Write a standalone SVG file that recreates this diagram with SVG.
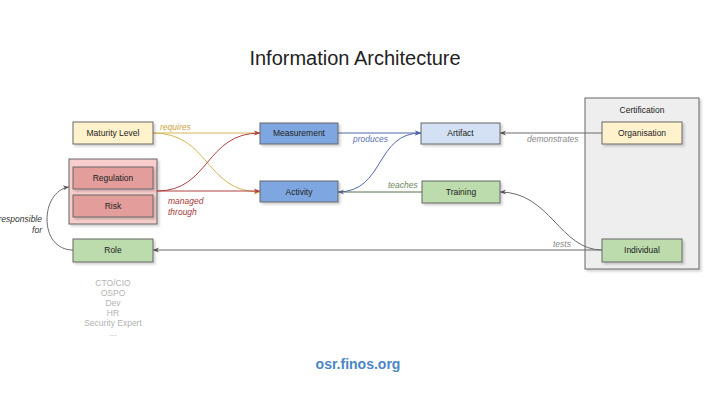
<svg xmlns="http://www.w3.org/2000/svg" width="720" height="405" viewBox="0 0 720 405">
<defs>
<filter id="sh" x="-10%" y="-10%" width="130%" height="140%">
<feDropShadow dx="2" dy="2" stdDeviation="1" flood-color="#000" flood-opacity="0.18"/>
</filter>
<marker id="aO" viewBox="0 0 10 10" refX="10" refY="5" markerWidth="6" markerHeight="6" markerUnits="userSpaceOnUse" orient="auto"><path d="M0,1 L10,5 L0,9 L3,5 Z" fill="#d6a83a"/></marker>
<marker id="aR" viewBox="0 0 10 10" refX="10" refY="5" markerWidth="6" markerHeight="6" markerUnits="userSpaceOnUse" orient="auto"><path d="M0,1 L10,5 L0,9 L3,5 Z" fill="#b04040"/></marker>
<marker id="aB" viewBox="0 0 10 10" refX="10" refY="5" markerWidth="6" markerHeight="6" markerUnits="userSpaceOnUse" orient="auto"><path d="M0,1 L10,5 L0,9 L3,5 Z" fill="#4f68a8"/></marker>
<marker id="aG" viewBox="0 0 10 10" refX="10" refY="5" markerWidth="6" markerHeight="6" markerUnits="userSpaceOnUse" orient="auto"><path d="M0,1 L10,5 L0,9 L3,5 Z" fill="#555"/></marker>
</defs>
<style>
text{font-family:"Liberation Sans",Arial,sans-serif}
.n{font-size:8.5px;fill:#222;text-anchor:middle}
.lbl{font-size:8.5px;font-style:italic}
.box{stroke:#666;stroke-width:1;filter:url(#sh)}
.yel{fill:#fff2cc}
.red{fill:#e39e9c}
.blu{fill:#7ea6e0}
.lbl2{fill:#d4e1f5}
.grn{fill:#bcdcad}
.e{fill:none;stroke-width:1}
.eo{stroke:#d6b656;marker-end:url(#aO)}
.er{stroke:#b04040;marker-end:url(#aR)}
.eb{stroke:#4f68a8;marker-end:url(#aB)}
.eg{stroke:#6b6b6b;marker-end:url(#aG)}
.egr{stroke:#58704c;marker-end:url(#aB)}
</style>
<rect width="720" height="405" fill="#fff"/>
<text x="355" y="65" font-size="20" text-anchor="middle" fill="#222">Information Architecture</text>

<g id="certification">
<rect x="585" y="98" width="114" height="171" fill="#eeeeee" stroke="#888" class="box"/>
<text x="642" y="113" class="n">Certification</text>
</g>
<g id="risk-group">
<rect x="69" y="159" width="88" height="65" fill="#f8cecc" stroke="#9e8a8a" class="box"/>
</g>

<g id="connectors">
<path class="e eo" d="M153,133 L260,133"/>
<path class="e eo" d="M153,133 C210,133 205,192 260,192"/>
<path class="e er" d="M157,191 L260,191"/>
<path class="e er" d="M157,191 C210,191 205,133 260,133"/>
<path class="e eb" d="M338,133 L421,133"/>
<path class="e eb" d="M338,192 C385,192 375,133 421,133"/>
<path class="e egr" d="M422,192 L338,192"/>
<path class="e eg" d="M602,133 L500,133"/>
<path class="e eg" d="M602,250 L153,250"/>
<path class="e eg" d="M602,250 C560,250 550,192 500,192"/>
<path class="e eg" d="M73,250 C38,250 40,191 69,187"/>
<text x="160" y="130" class="lbl" fill="#c9a23c">requires</text>
<text x="168" y="204" class="lbl" fill="#a8393a">managed</text>
<text x="168" y="215" class="lbl" fill="#a8393a">through</text>
<text x="353" y="142" class="lbl" fill="#5a72b0">produces</text>
<text x="388" y="188" class="lbl" fill="#6b8a5a">teaches</text>
<text x="527" y="142" class="lbl" fill="#888">demonstrates</text>
<text x="553" y="247" class="lbl" fill="#888">tests</text>
<text x="42" y="222" class="lbl" fill="#333" text-anchor="end">responsible</text>
<text x="42" y="233" class="lbl" fill="#333" text-anchor="end">for</text>
</g>

<g id="maturity-level"><rect x="73" y="122" width="80" height="22" class="box yel"/><text x="113" y="136" class="n">Maturity Level</text></g>
<g id="regulation"><rect x="73" y="167" width="80" height="22" class="box red"/><text x="113" y="181" class="n">Regulation</text></g>
<g id="risk"><rect x="73" y="195" width="80" height="22" class="box red"/><text x="113" y="209" class="n">Risk</text></g>
<g id="role"><rect x="73" y="239" width="80" height="23" class="box grn"/><text x="113" y="253" class="n">Role</text></g>
<g id="measurement"><rect x="260" y="123" width="78" height="21" class="box blu"/><text x="299" y="136" class="n">Measurement</text></g>
<g id="activity"><rect x="260" y="181" width="78" height="21" class="box blu"/><text x="299" y="194.5" class="n">Activity</text></g>
<g id="artifact"><rect x="421" y="123" width="79" height="21" class="box lbl2"/><text x="460.5" y="136" class="n">Artifact</text></g>
<g id="training"><rect x="422" y="181" width="78" height="22" class="box grn"/><text x="461" y="195" class="n">Training</text></g>
<g id="organisation"><rect x="602" y="122" width="80" height="22" class="box yel"/><text x="642" y="136" class="n">Organisation</text></g>
<g id="individual"><rect x="602" y="239" width="80" height="23" class="box grn"/><text x="642" y="253" class="n">Individual</text></g>

<g id="roles-list" font-size="8.5" fill="#b3b3b3" text-anchor="middle">
<text x="113" y="286">CTO/CIO</text>
<text x="113" y="296">OSPO</text>
<text x="113" y="306">Dev</text>
<text x="113" y="316">HR</text>
<text x="113" y="326">Security Expert</text>
<text x="113" y="336">...</text>
</g>
<text x="358" y="369" font-size="14" font-weight="bold" fill="#4a86c8" text-anchor="middle">osr.finos.org</text>
</svg>
